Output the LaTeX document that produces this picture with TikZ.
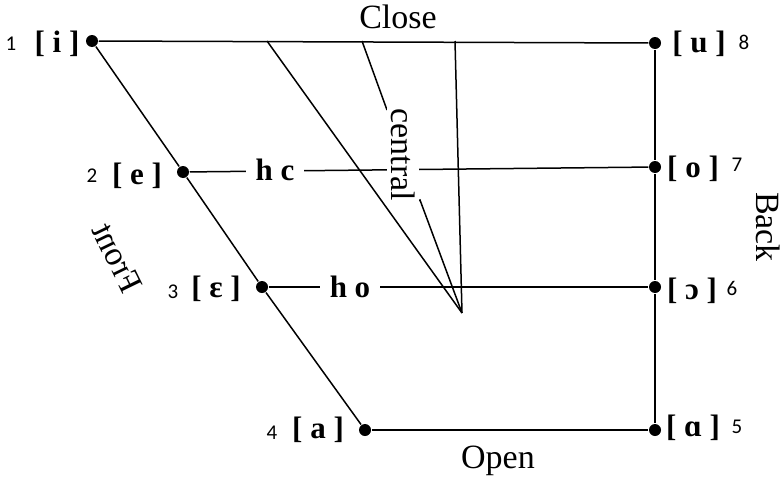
\documentclass[tikz,border=0pt]{standalone}
\usepackage{fontspec}
\setmainfont{Liberation Serif}
\newfontfamily\digitfont{Carlito}
\usepackage{tikz}
\tikzset{
  dot/.style={circle,fill=black,inner sep=0pt,minimum size=12pt},
  ipa/.style={font=\fontsize{31}{31}\selectfont\bfseries,inner sep=0pt},
  num/.style={font=\digitfont\fontsize{21}{21}\selectfont,inner sep=0pt},
  word/.style={font=\fontsize{34}{34}\selectfont,inner sep=0pt},
  htlab/.style={font=\fontsize{31}{31}\selectfont\bfseries,fill=white,inner xsep=10pt,inner ysep=2pt}
}

\begin{document}
\begin{tikzpicture}[x=1pt,y=-1pt,line width=1.5pt]
\useasboundingbox (0,0) rectangle (784,479);

% Front vowels
\node[dot] (p1) at (92,41) {};
\node[dot] (p2) at (183,172) {};
\node[dot] (p3) at (262,287) {};
\node[dot] (p4) at (365,430) {};

% Back vowels
\node[dot] (p8) at (655,43) {};
\node[dot] (p7) at (655,167) {};
\node[dot] (p6) at (655,287) {};
\node[dot] (p5) at (655,430) {};

% Vowel symbols and numbers
\node[ipa] (s1) at (57,44) {[ i ]};
\node[num] (n1) at (11,44) {1};
\node[ipa] (s2) at (137,176) {[ e ]};
\node[num] (n2) at (92,176) {2};
\node[ipa] (s3) at (216,289) {[ ɛ ]};
\node[num] (n3) at (173,292) {3};
\node[ipa] (s4) at (318,430) {[ a ]};
\node[num] (n4) at (272,433) {4};
\node[ipa] (s8) at (699,44) {[ u ]};
\node[num] (n8) at (744,42) {8};
\node[ipa] (s7) at (693,169) {[ o ]};
\node[num] (n7) at (737,165) {7};
\node[ipa] (s6) at (692,291) {[ ɔ ]};
\node[num] (n6) at (732,288) {6};
\node[ipa] (s5) at (693,428) {[ ɑ ]};
\node[num] (n5) at (737,427) {5};

% Outline
\draw (p1) -- (p2) -- (p3) -- (p4);
\draw (p1) -- (p8);
\draw (p8) -- (p7) -- (p6) -- (p5);
\draw (p4) -- (p5);

% Central region
\coordinate (diagTop) at (267,41);
\coordinate (cenTop) at (362,41);
\coordinate (vertTop) at (455,41);
\coordinate (apex) at (462,313);
\coordinate (cenUp) at (387,110);
\coordinate (cenLow) at (420,200);
\coordinate (cenHook) at (414,203);
\draw (diagTop) -- (apex);
\draw (vertTop) -- (apex);
\draw (cenTop) -- (cenUp);
\draw (cenHook) -- (cenLow) -- (apex);

% Half-close and half-open
\draw (p2) -- (p7);
\draw (p3) -- (p6);
\node[htlab] (hc) at (275,170) {h c};
\node[htlab] (ho) at (350,287) {h o};
\node[word,rotate=-90,fill=white,inner sep=4pt] (central) at (403,155) {central};

% Labels
\node[word,anchor=base] (close) at (398,28) {Close};
\node[word,anchor=base] (open) at (498,468) {Open};
\node[word,rotate=-90] (back) at (768,227) {Back};
\node[word,rotate=-64,xscale=-1] (front) at (117,258) {Front};
\end{tikzpicture}
\end{document}
